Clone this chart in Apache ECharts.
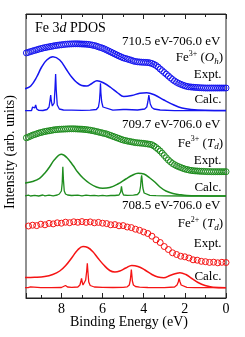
<!DOCTYPE html>
<html><head><meta charset="utf-8">
<script src="https://cdn.jsdelivr.net/npm/echarts@6/dist/echarts.min.js"></script>
<style>html,body{margin:0;padding:0;background:#fff}#c{width:245px;height:337px}</style>
</head><body><div id="c"></div>
<script>
// Binding energy grids (eV) for the experimental curves
const exptEnergyFine = [0,0.1,0.2,0.3,0.4,0.5,0.6,0.7,0.8,0.9,1.0,1.1,1.2,1.3,1.4,1.5,1.6,1.7,1.8,1.9,2.0,2.1,2.2,2.3,2.4,2.5,2.6,2.7,2.8,2.9,3.0,3.1,3.2,3.3,3.4,3.5,3.6,3.7,3.8,3.9,4.0,4.1,4.2,4.3,4.4,4.5,4.6,4.7,4.8,4.9,5.0,5.1,5.2,5.3,5.4,5.5,5.6,5.7,5.8,5.9,6.0,6.1,6.2,6.3,6.4,6.5,6.6,6.7,6.8,6.9,7.0,7.1,7.2,7.3,7.4,7.5,7.6,7.7,7.8,7.9,8.0,8.1,8.2,8.3,8.4,8.5,8.6,8.7,8.8,8.9,9.0,9.1,9.2,9.3,9.4,9.5,9.6,9.7,9.8];
const exptEnergy = [0,0.2,0.4,0.6,0.8,1.0,1.2,1.4,1.6,1.8,2.0,2.2,2.4,2.6,2.8,3.0,3.2,3.4,3.6,3.8,4.0,4.2,4.4,4.6,4.8,5.0,5.2,5.4,5.6,5.8,6.0,6.2,6.4,6.6,6.8,7.0,7.2,7.4,7.6,7.8,8.0,8.2,8.4,8.6,8.8,9.0,9.2,9.4,9.6,9.8];
// Offset intensities (arb. units)
const blueExpt = [210,210,210,210,210,210,210,210,210,210,210,210.1,210.2,210.3,210.5,210.6,210.8,211,211.2,211.6,212.2,212.9,213.7,214.6,215.7,217,218.5,220.2,222,223.8,225.5,227.3,229,230.9,232.5,233.6,234.5,235.1,235.5,235.6,235.7,235.8,236,236.2,236.5,237,237.7,238.4,239,239.6,240.2,241.1,242,243,244,245,246,247,248,249,249.8,250.5,251.2,251.9,252.5,252.9,253.3,253.6,253.8,253.9,254,254.1,254.2,254.2,254.2,254.1,254,253.9,253.7,253.5,253.2,253,252.7,252.4,252,251.6,251.2,250.8,250.4,249.9,249.4,248.8,248.2,247.6,247,246.4,245.7,245.1,244.5];
const greenExpt = [126.3,126.3,126.3,126.3,126.3,126.3,126.3,126.3,126.4,126.4,126.5,126.6,126.7,126.8,127,127.1,127.3,127.6,128,128.5,129,129.7,130.5,131.3,132.2,133.3,134.5,136.2,138,140.2,142.5,144.8,147,148.8,150.5,152,153.2,153.7,154,154.3,154.6,154.8,155,155.2,155.4,155.8,156.2,156.6,157,157.5,158,158.7,159.5,160.2,161,161.7,162.5,163.2,164,164.5,165,165.5,166,166.5,167,167.4,167.8,168.1,168.4,168.6,168.8,168.9,169,169.1,169.2,169.2,169.2,169.1,169,168.9,168.8,168.7,168.5,168.3,168,167.6,167.2,166.9,166.5,166,165.5,164.9,164.2,163.5,162.8,161.9,161,160.2,159.5];
const redExpt = [35.5,35.7,35.2,35.8,35.6,36.3,36.7,37.8,38.2,40,41.2,41.8,43.5,45.2,48.5,51.5,55.5,58.2,61.8,64.5,66,67.7,68.8,70.4,71,72.4,72.2,73.4,73.2,74.4,74.8,75.6,75.2,76.1,75.6,76.4,75.7,76.2,75.3,75.8,74.8,75.2,74.1,74.6,73.2,73.8,72.4,72.8,72,72.8];

// Calculated broadened spectra [energy, intensity]
const blueBroad = [[9.8,209],[9.70,209.7],[9.49,212],[9.20,221],[8.96,231],[8.71,238],[8.41,241.3],[8.08,238],[7.74,228],[7.50,221],[7.25,215.5],[7.01,212.5],[6.77,212],[6.52,214.5],[6.27,217.3],[5.94,215],[5.60,210.5],[5.26,205],[4.97,201.5],[4.58,202.5],[4.19,204.7],[3.85,205.3],[3.46,203],[3.02,198],[2.53,193],[2.14,190],[1.70,188.5],[1.02,187.7],[0,187.5]];
const greenBroad = [[9.8,114.8],[9.74,115],[9.40,116.5],[9.06,119.7],[8.76,126],[8.57,131.3],[8.33,138.5],[8.00,143.7],[7.74,140.5],[7.43,132.5],[7.21,126],[6.95,120],[6.62,114.5],[6.30,111],[5.99,109.7],[5.65,110.5],[5.26,114],[4.87,119],[4.58,122.5],[4.27,124.7],[3.99,124],[3.70,120],[3.46,116],[3.21,111],[2.92,107],[2.58,104.5],[2.24,103.3],[1.90,102.5],[1.27,102.2],[0,102]];
const redBroad = [[9.8,20.5],[9.74,20.5],[9.30,20.7],[8.81,21.5],[8.42,23.5],[8.08,27],[7.79,32.5],[7.45,41.5],[7.21,48],[6.95,51.5],[6.72,50.5],[6.48,46.5],[6.23,40],[5.94,33],[5.65,27.5],[5.40,26],[5.16,27],[4.87,30],[4.58,32.5],[4.28,31.5],[3.94,28],[3.60,23.5],[3.31,21],[3.02,20.2],[2.73,22.5],[2.43,24.5],[2.24,25.3],[1.95,23.5],[1.66,19.5],[1.36,15.5],[1.02,12.5],[0.63,10.8],[0,10.3]];

// Calculated sharp (unbroadened) spectra [energy, intensity]
const blueSharp = [[9.8,187.3],[9.45,187.5],[9.4,191],[9.35,192.5],[9.3,190],[9.25,193],[9.2,189],[9.1,187.6],[8.9,187.5],[8.7,188.5],[8.6,191],[8.55,198],[8.52,203],[8.49,197],[8.44,192],[8.4,191],[8.35,195],[8.31,210],[8.28,224],[8.25,208],[8.2,193],[8.1,189],[7.9,188],[7.5,187.8],[7.0,187.6],[6.6,187.8],[6.3,188.5],[6.2,191],[6.15,197],[6.12,206],[6.10,214.7],[6.08,205],[6.04,196],[5.98,191],[5.9,189],[5.5,187.8],[5.0,188.5],[4.92,190],[4.85,188.5],[4.3,188],[3.95,189],[3.85,191],[3.8,196],[3.77,200],[3.75,203],[3.72,199],[3.68,194],[3.6,190.5],[3.5,189],[3.2,188],[2.5,187.4],[1.5,187.3],[0,187.3]];
const greenSharp = [[9.8,102],[9.6,102.8],[9.5,102],[9.3,102.6],[9.1,102],[8.9,103],[8.8,102.2],[8.6,102.8],[8.4,102.2],[8.2,103],[8.1,104],[8.0,107],[7.96,115],[7.93,131.3],[7.9,118],[7.86,107],[7.8,104],[7.7,103],[7.5,102.5],[7.2,102.8],[7.0,102.2],[6.8,102.8],[6.6,102.3],[6.4,102.6],[6.2,102.2],[6.0,102.6],[5.8,102.2],[5.6,102.5],[5.4,102.5],[5.2,103],[5.12,106],[5.08,111.7],[5.04,106],[4.98,103],[4.8,102.6],[4.5,102.8],[4.3,103.5],[4.2,106],[4.15,112],[4.12,120],[4.10,122.7],[4.08,119],[4.04,110],[3.98,105],[3.9,103.5],[3.7,102.6],[3.4,102.3],[3.0,102.2],[2.0,102],[0,102]];
const redSharp = [[9.8,10.3],[9.62,10.4],[9.56,11.5],[9.5,11.2],[9.44,10.4],[9.0,10.3],[8.5,10.4],[8.0,10.5],[7.9,11.5],[7.85,13.5],[7.8,12.5],[7.75,13],[7.7,11],[7.5,10.6],[7.2,11],[7.1,13],[7.05,17],[7.02,19.7],[6.99,16],[6.95,13],[6.9,13.5],[6.82,18],[6.77,27],[6.74,34.7],[6.71,26],[6.67,16],[6.6,12.5],[6.4,11],[6.0,10.6],[5.5,10.5],[5.0,10.7],[4.8,11.2],[4.7,13],[4.65,18],[4.62,24],[4.60,28.5],[4.58,24],[4.55,17],[4.5,13],[4.4,11.5],[4.2,10.8],[3.8,10.5],[3.0,10.4],[2.5,11],[2.38,13],[2.32,16],[2.28,19.7],[2.24,16.5],[2.18,13],[2.1,11.5],[1.9,10.7],[1.5,10.4],[1.0,10.3],[0,10.3]];

const xTicks = [0,2,4,6,8];

const BLUE = '#1414f0', GREEN = '#1e8c1e', RED = '#f51414';
const F = '"Liberation Serif","Times New Roman",serif';

function exptSeries(energies, vals, color){
  return {type:'line', data: energies.map((e,i)=>[e, vals[i]]), symbol:'circle', symbolSize:6,
    showAllSymbol:true, clip:true, silent:true,
    itemStyle:{color:'rgba(255,255,255,0)', borderColor:color, borderWidth:1},
    lineStyle:{opacity:0}, z:3};
}
function lineSeries(pts, color, w, smooth){
  return {type:'line', data: pts, symbol:'none', smooth: smooth, clip:true, silent:true,
    lineStyle:{color:color, width:w}, z:2};
}
function txt(x, y, text, align, rich, size){
  return {type:'text', x:x, y:y, style:{text:text, align:align||'right', verticalAlign:'middle',
    font: (size||13)+'px '+F, fill:'#000', rich: rich}};
}
const richFe = {
  n:{fontSize:13, fontFamily:F, lineHeight:16, color:'#000'},
  sup:{fontSize:8, fontFamily:F, lineHeight:9, verticalAlign:'top', color:'#000'},
  i:{fontSize:13, fontFamily:F, fontStyle:'italic', lineHeight:16, color:'#000'},
  sub:{fontSize:9, fontFamily:F, fontStyle:'italic', lineHeight:9, verticalAlign:'bottom', color:'#000'}
};
const richTitle = {
  n:{fontSize:14, fontFamily:F, color:'#000'},
  i:{fontSize:14, fontFamily:F, fontStyle:'italic', color:'#000'}
};

const axisCommon = {
  type:'value', inverse:true, min:0, max:9.72, interval:2,
  axisLine:{show:true, lineStyle:{color:'#222', width:1}},
  axisTick:{show:true, inside:true, length:5, lineStyle:{color:'#222'}},
  minorTick:{show:true, splitNumber:2, length:3, lineStyle:{color:'#222'}},
  splitLine:{show:false}
};

const chart = echarts.init(document.getElementById('c'), null, {renderer:'canvas'});
chart.setOption({
  animation:false,
  backgroundColor:'#fff',
  grid:{left:26, right:19, top:14, bottom:39, show:true, borderColor:'#222', borderWidth:1, backgroundColor:'transparent'},
  xAxis:[
    Object.assign({}, axisCommon, {position:'bottom',
      axisLabel:{show:true, margin:4, fontSize:14, fontFamily:F, color:'#000', showMaxLabel:false,
        formatter: v => xTicks.indexOf(v) >= 0 ? String(v) : ''}}),
    Object.assign({}, axisCommon, {position:'top', axisLabel:{show:false}})
  ],
  yAxis:{type:'value', min:0, max:284, show:false},
  series:[
    exptSeries(exptEnergyFine, blueExpt, BLUE), lineSeries(blueBroad, BLUE, 1.5, 0.4), lineSeries(blueSharp, BLUE, 1.3, false),
    exptSeries(exptEnergyFine, greenExpt, GREEN), lineSeries(greenBroad, GREEN, 1.5, 0.4), lineSeries(greenSharp, GREEN, 1.3, false),
    exptSeries(exptEnergy, redExpt, RED), lineSeries(redBroad, RED, 1.5, 0.4), lineSeries(redSharp, RED, 1.3, false)
  ],
  graphic:[
    txt(35, 28, '{n|Fe 3}{i|d}{n| PDOS}', 'left', richTitle, 14),
    txt(220.5, 41.7, '710.5 eV-706.0 eV'),
    txt(223, 58, '{n|Fe}{sup|3+}{n| (}{i|O}{sub|h}{n|)}', 'right', richFe),
    txt(221.5, 75, 'Expt.'),
    txt(221.5, 99.3, 'Calc.'),
    txt(220.5, 125, '709.7 eV-706.0 eV'),
    txt(223, 143.3, '{n|Fe}{sup|3+}{n| (}{i|T}{sub|d}{n|)}', 'right', richFe),
    txt(221.5, 161, 'Expt.'),
    txt(221.5, 187.5, 'Calc.'),
    txt(220.5, 206, '708.5 eV-706.0 eV'),
    txt(223, 224, '{n|Fe}{sup|2+}{n| (}{i|T}{sub|d}{n|)}', 'right', richFe),
    txt(221.5, 244, 'Expt.'),
    txt(221.5, 276.7, 'Calc.'),
    {type:'text', x:129, y:322, style:{text:'Binding Energy (eV)', align:'center', verticalAlign:'middle', font:'14px '+F, fill:'#000'}},
    {type:'text', x:10, y:152, rotation:Math.PI/2, style:{text:'Intensity (arb. units)', align:'center', verticalAlign:'middle', font:'14px '+F, fill:'#000'}}
  ]
});
</script></body></html>
